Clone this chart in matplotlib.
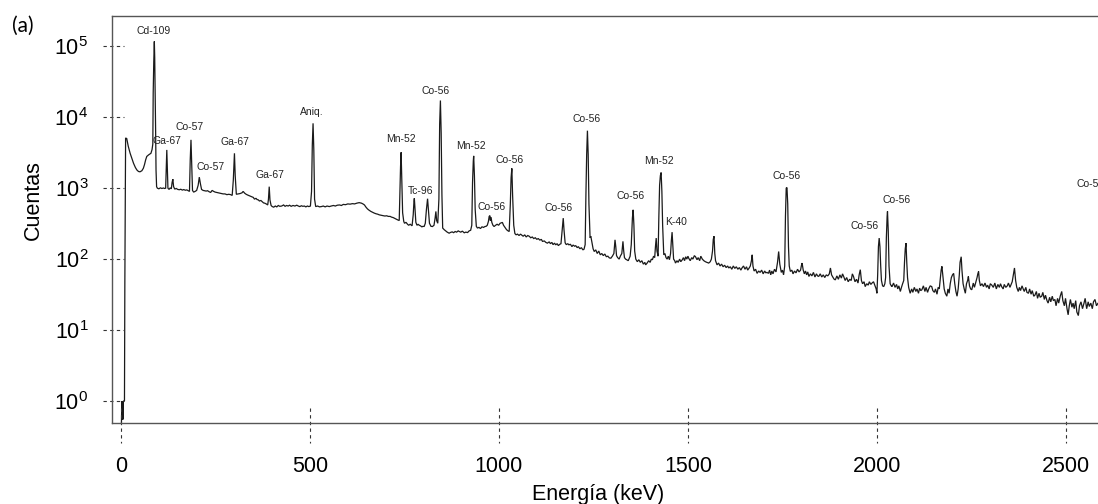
import matplotlib
matplotlib.use("Agg")
import matplotlib.pyplot as plt
from matplotlib.transforms import blended_transform_factory
from matplotlib.ticker import FixedLocator, NullLocator, LogFormatterMathtext

plt.rcParams['font.family'] = ['Liberation Sans', 'DejaVu Sans']
plt.rcParams['mathtext.fontset'] = 'custom'
plt.rcParams['mathtext.rm'] = 'Liberation Sans'
plt.rcParams['mathtext.it'] = 'Liberation Sans:italic'
plt.rcParams['mathtext.bf'] = 'Liberation Sans:bold'

# ---------------- data (energy keV, counts) ----------------
seg_low = [(1, 0.5), (2, 1.0), (3, 0.55), (4, 1.0), (5, 0.55), (6, 1.0), (7, 1.0), (9, 1.0), (10, 46),
           (12, 5100), (15, 5000), (19, 3900), (24, 3100), (29, 2600), (33, 2240), (38, 1950), (42, 1800),
           (46, 1720), (50, 1700), (55, 1760), (59, 1910), (62, 2150), (65, 2500), (68, 2800), (73, 2950),
           (79, 3100), (82, 3500), (84, 4200), (85, 21800), (86.5, 60000), (88, 117000), (89, 70000),
           (90, 27000), (91.5, 6000), (92.5, 1800), (94, 1050), (96, 1000)]

seg_100_550 = [(100, 980), (104, 1010), (108, 990), (112, 1005), (115, 990), (118, 1000), (120, 2500),
               (121, 3460), (122, 2200), (124, 1000), (127, 960), (130, 1010), (133, 980), (135, 1200),
               (137, 1340), (139, 1050), (142, 970), (146, 990), (150, 960), (154, 950), (158, 965),
               (162, 940), (166, 955), (170, 935), (174, 945), (178, 920), (181, 900), (183, 2500),
               (185, 4800), (187, 2000), (189, 930), (192, 880), (196, 900), (200, 930), (204, 1100),
               (207, 1430), (210, 1150), (213, 960), (217, 930), (221, 920), (225, 910), (229, 920),
               (233, 890), (237, 870), (241, 930), (245, 900), (249, 880), (253, 870), (257, 860),
               (261, 850), (265, 840), (270, 830), (275, 830), (280, 810), (285, 820), (290, 810),
               (294, 790), (297, 1300), (300, 3100), (302, 1500), (305, 820), (310, 830), (315, 840),
               (320, 860), (323, 900), (327, 850), (331, 820), (335, 800), (340, 780), (345, 760),
               (350, 740), (353, 700), (357, 720), (360, 690), (363, 685), (366, 660), (370, 670),
               (374, 640), (377, 620), (380, 615), (384, 600), (388, 580), (390, 700), (392, 1050),
               (394, 680), (397, 570), (400, 550), (404, 540), (408, 560), (412, 545), (416, 570),
               (420, 555), (425, 560), (430, 580), (434, 555), (438, 570), (442, 560), (446, 575),
               (450, 555), (455, 570), (460, 560), (465, 575), (469, 560), (473, 550), (477, 565),
               (481, 555), (485, 560), (489, 545), (493, 560), (497, 550), (501, 560), (504, 900),
               (506, 4000), (508, 8200), (510, 3500), (512, 700), (515, 550), (520, 560), (525, 545),
               (530, 550), (535, 560), (540, 545), (545, 560), (551, 550)]

seg_550_1130 = [(556, 560), (562, 570), (567, 560), (572, 575), (578, 580), (583, 570), (588, 590),
                (594, 585), (600, 600), (606, 595), (612, 605), (618, 600), (624, 615), (630, 625),
                (636, 615), (640, 600), (644, 580), (648, 540), (652, 510), (656, 490), (661, 470),
                (666, 455), (670, 445), (675, 435), (679, 430), (683, 421), (688, 415), (693, 410),
                (698, 405), (703, 408), (707, 400), (712, 400), (716, 390), (720, 385), (724, 375),
                (728, 365), (732, 357), (736, 350), (738, 900), (739.5, 2000), (741, 3200), (743, 1200),
                (745, 450), (748, 340), (750, 320), (754, 330), (758, 310), (761, 300), (765, 310),
                (770, 295), (773, 420), (775, 650), (776, 720), (778, 500), (780, 330), (783, 300),
                (786, 310), (789, 300), (792, 295), (796, 285), (799, 290), (802, 288), (805, 320),
                (808, 500), (811, 710), (813, 520), (816, 320), (820, 290), (824, 288), (828, 300),
                (831, 380), (833, 470), (835, 350), (838, 320), (841, 700), (843, 8000), (845, 17200),
                (847, 6000), (849, 800), (851, 274), (855, 260), (859, 250), (863, 240), (868, 232),
                (872, 238), (876, 242), (880, 236), (884, 245), (888, 240), (892, 250), (895, 245),
                (899, 240), (903, 248), (908, 235), (912, 240), (917, 237), (921, 250), (925, 255),
                (928, 300), (930, 1200), (932, 2400), (933, 2850), (935, 1500), (937, 500), (940, 290),
                (943, 274), (947, 280), (951, 270), (955, 285), (959, 280), (963, 288), (966, 290),
                (969, 300), (972, 340), (974, 400), (976, 410), (977, 350), (979, 390), (981, 330),
                (984, 300), (987, 288), (991, 300), (995, 310), (999, 300), (1003, 320), (1006, 325),
                (1009, 329), (1012, 300), (1016, 280), (1020, 260), (1024, 250), (1027, 245),
                (1030, 600), (1032, 1400), (1034, 1900), (1036, 800), (1039, 300), (1042, 230),
                (1045, 220), (1049, 225), (1053, 215), (1057, 225), (1060, 218), (1064, 210),
                (1068, 220), (1072, 205), (1076, 215), (1080, 210), (1084, 200), (1088, 205),
                (1092, 195), (1096, 200), (1100, 190), (1104, 195), (1108, 185), (1112, 190),
                (1115, 178), (1120, 180), (1124, 172), (1128, 168)]

seg_1130_1710 = [(1133, 175), (1136, 165), (1140, 172), (1143, 160), (1147, 168), (1150, 159), (1154, 165),
                 (1157, 155), (1161, 162), (1164, 165), (1167, 250), (1170, 378), (1172, 260), (1175, 170),
                 (1178, 160), (1182, 165), (1185, 159), (1189, 162), (1193, 150), (1196, 158), (1200, 152),
                 (1203, 155), (1207, 145), (1210, 150), (1214, 140), (1218, 145), (1222, 135), (1225, 138),
                 (1228, 160), (1230, 800), (1232, 3000), (1234, 6460), (1236, 3000), (1238, 600),
                 (1241, 200), (1243, 210), (1246, 170), (1249, 140), (1252, 128), (1256, 135), (1260, 120),
                 (1264, 130), (1268, 115), (1272, 120), (1276, 112), (1280, 118), (1284, 108), (1288, 110),
                 (1292, 104), (1296, 103), (1300, 110), (1304, 120), (1307, 187), (1309, 150), (1311, 112),
                 (1314, 105), (1318, 100), (1321, 110), (1325, 120), (1328, 178), (1330, 130), (1332, 105),
                 (1335, 100), (1338, 98), (1342, 95), (1347, 110), (1350, 160), (1353, 380),
                 (1355, 495), (1357, 300), (1359, 130), (1362, 100), (1366, 92), (1370, 98), (1374, 90),
                 (1378, 95), (1382, 85), (1386, 90), (1388, 83), (1392, 88), (1396, 95), (1400, 90),
                 (1403, 100), (1406, 98), (1409, 110), (1412, 105), (1414, 150), (1416, 198), (1418, 130),
                 (1421, 110), (1423, 400), (1425, 1100), (1427, 1500), (1429, 1660), (1431, 900),
                 (1433, 300), (1436, 115), (1439, 120), (1442, 105), (1445, 100), (1448, 110), (1451, 98),
                 (1454, 120), (1456, 180), (1458, 240), (1460, 150), (1462, 100), (1465, 95), (1467, 88),
                 (1471, 95), (1474, 90), (1478, 100), (1481, 92), (1485, 98), (1488, 105), (1491, 95),
                 (1494, 108), (1497, 100), (1500, 110), (1502, 103), (1506, 95), (1510, 105), (1513, 100),
                 (1517, 112), (1520, 108), (1524, 98), (1527, 105), (1531, 95), (1534, 110), (1538, 100),
                 (1542, 95), (1546, 92), (1550, 90), (1555, 88), (1559, 92), (1562, 100), (1565, 130),
                 (1567, 190), (1569, 210), (1571, 120), (1573, 95), (1577, 83), (1581, 88), (1585, 80),
                 (1589, 85), (1593, 78), (1597, 82), (1601, 76), (1605, 80), (1608, 75), (1612, 78),
                 (1616, 72), (1620, 80), (1624, 74), (1628, 78), (1632, 72), (1636, 76), (1640, 70),
                 (1643, 75), (1647, 80), (1651, 72), (1655, 78), (1658, 70), (1662, 75), (1665, 80),
                 (1668, 95), (1670, 115), (1672, 80), (1675, 68), (1679, 72), (1683, 63), (1687, 68),
                 (1691, 65), (1695, 70), (1699, 62), (1703, 68), (1706, 64), (1709, 65)]

seg_1710_2295 = [(1713, 63), (1716, 70), (1719, 60), (1722, 68), (1725, 62), (1729, 72), (1733, 66),
                 (1737, 90), (1740, 128), (1743, 85), (1747, 65), (1750, 70), (1753, 60), (1756, 80),
                 (1758, 400), (1760, 1000), (1762, 1020), (1764, 600), (1766, 150), (1768, 80), (1771, 67),
                 (1775, 70), (1778, 62), (1782, 68), (1786, 64), (1790, 72), (1794, 66), (1798, 70),
                 (1800, 80), (1802, 88), (1805, 70), (1808, 62), (1811, 68), (1814, 60), (1817, 66),
                 (1820, 57), (1824, 62), (1828, 58), (1832, 65), (1836, 56), (1840, 62), (1843, 58),
                 (1846, 57), (1850, 62), (1854, 56), (1858, 60), (1862, 55), (1866, 60), (1870, 58),
                 (1874, 62), (1877, 75), (1880, 60), (1884, 55), (1887, 52), (1890, 51), (1894, 58),
                 (1898, 52), (1902, 60), (1906, 54), (1909, 62), (1912, 57), (1916, 50), (1920, 55),
                 (1924, 48), (1928, 52), (1932, 50), (1935, 62), (1938, 57), (1942, 48), (1946, 52),
                 (1950, 46), (1953, 60), (1956, 71), (1959, 50), (1962, 45), (1966, 48), (1969, 41),
                 (1973, 45), (1977, 43), (1980, 48), (1984, 44), (1987, 46), (1991, 48), (1995, 42),
                 (1998, 38), (2000, 33), (2002, 60), (2004, 150), (2006, 198), (2008, 150), (2010, 80),
                 (2012, 50), (2015, 42), (2018, 41), (2021, 45), (2023, 55), (2025, 200), (2027, 400),
                 (2028, 470), (2030, 250), (2032, 80), (2035, 45), (2038, 42), (2040, 41), (2044, 46),
                 (2048, 40), (2052, 44), (2055, 38), (2058, 42), (2062, 35), (2065, 40), (2068, 45),
                 (2071, 50), (2073, 90), (2075, 140), (2077, 168), (2079, 90), (2081, 55), (2084, 40),
                 (2088, 33), (2092, 38), (2095, 34), (2099, 40), (2103, 35), (2106, 38), (2110, 33),
                 (2113, 39), (2116, 36), (2119, 37), (2123, 42), (2127, 35), (2130, 40), (2134, 34),
                 (2137, 38), (2141, 42), (2145, 41), (2148, 36), (2152, 34), (2155, 38), (2159, 32),
                 (2162, 40), (2165, 38), (2168, 55), (2170, 70), (2172, 79), (2175, 55), (2178, 38),
                 (2181, 33), (2185, 30), (2188, 38), (2191, 33), (2194, 45), (2197, 55), (2200, 60),
                 (2203, 63), (2206, 45), (2209, 35), (2212, 30), (2215, 38), (2218, 60), (2220, 90),
                 (2223, 108), (2225, 70), (2228, 45), (2231, 38), (2234, 33), (2237, 45), (2240, 50),
                 (2242, 57), (2245, 42), (2248, 38), (2251, 37), (2255, 46), (2258, 40), (2262, 48),
                 (2265, 55), (2267, 62), (2269, 67), (2271, 50), (2274, 42), (2278, 45), (2282, 41),
                 (2286, 46), (2290, 40), (2293, 43)]

seg_2295_end = [(2297, 38), (2300, 45), (2304, 43), (2308, 40), (2312, 46), (2316, 38), (2320, 44),
                (2324, 40), (2327, 45), (2330, 41), (2334, 38), (2337, 44), (2341, 40), (2345, 42),
                (2348, 46), (2352, 40), (2355, 44), (2358, 48), (2361, 60), (2364, 75), (2367, 50),
                (2370, 40), (2374, 35), (2377, 40), (2380, 36), (2384, 42), (2387, 38), (2390, 35),
                (2394, 40), (2397, 34), (2401, 33), (2404, 38), (2408, 32), (2411, 36), (2415, 30),
                (2418, 31), (2422, 35), (2425, 28), (2429, 33), (2432, 29), (2436, 30), (2439, 34),
                (2443, 27), (2446, 31), (2450, 26), (2453, 24), (2457, 29), (2460, 25), (2464, 30),
                (2467, 26), (2471, 27), (2474, 22), (2478, 28), (2481, 24), (2485, 30), (2489, 35),
                (2492, 26), (2496, 22), (2499, 28), (2503, 20), (2506, 16.4), (2509, 22), (2512, 27),
                (2516, 21), (2519, 24), (2522, 20), (2526, 26), (2529, 18), (2533, 16), (2536, 22),
                (2540, 25), (2544, 20), (2548, 24), (2551, 28), (2555, 20), (2559, 25), (2562, 21.5),
                (2566, 24), (2570, 20), (2573, 25), (2577, 27), (2581, 22), (2585, 24), (2590, 23)]

# peak labels: text, energy (keV) and height (counts) where the label sits
label_text = ["Cd-109", "Ga-67", "Co-57", "Co-57", "Ga-67", "Ga-67", "Aniq.", "Mn-52", "Tc-96",
              "Co-56", "Mn-52", "Co-56", "Co-56", "Co-56", "Co-56", "Co-56", "Mn-52", "K-40",
              "Co-56", "Co-56", "Co-56", "Co-56"]
label_energy = [85.6, 120.2, 180.7, 237, 300.4, 392.9, 503.8, 739.8, 792.6,
                833.3, 924.7, 980.7, 1027, 1156.4, 1230.4, 1349.3, 1424, 1469.5,
                1760, 1967, 2050.7, 2566]
label_counts = [166000, 4680, 7380, 2010, 4530, 1540, 12000, 4940, 925,
                23700, 3980, 551, 2510, 522, 9460, 787, 2430, 332,
                1490, 294, 684, 1140]

x_ticks = [0, 500, 1000, 1500, 2000, 2500]
y_ticks = [1, 10, 100, 1000, 10000, 100000]

# ---------------- figure ----------------
W, H, DPI = 1098, 504, 100
fig = plt.figure(figsize=(W / DPI, H / DPI), dpi=DPI)
ax_l, ax_r, ax_t, ax_b = 112, 1098, 16, 423
ax = fig.add_axes([ax_l / W, 1 - ax_b / H, (ax_r - ax_l) / W, (ax_b - ax_t) / H])

segments = [seg_low, seg_100_550, seg_550_1130, seg_1130_1710, seg_1710_2295, seg_2295_end]
pts = [p for seg in segments for p in seg]
energy = [p[0] for p in pts]
counts = [p[1] for p in pts]
ax.plot(energy, counts, color='#1a1a1a', lw=0.9, solid_joinstyle='miter')

ax.set_yscale('log')
ax.set_xlim(-24, 2585)
ax.set_ylim(0.49, 2.67e5)

for s in ['left', 'bottom', 'top']:
    ax.spines[s].set_color('#555555')
    ax.spines[s].set_linewidth(1.0)
ax.spines['right'].set_visible(False)

ax.xaxis.set_major_locator(FixedLocator(x_ticks))
ax.yaxis.set_major_locator(FixedLocator(y_ticks))
ax.yaxis.set_minor_locator(NullLocator())
ax.yaxis.set_major_formatter(LogFormatterMathtext())
ax.tick_params(axis='x', length=0, pad=24, labelsize=15.5)
ax.tick_params(axis='y', length=0, pad=17, labelsize=15.5)

# dashed tick marks
tr_y = blended_transform_factory(ax.transAxes, ax.transData)
tr_x = blended_transform_factory(ax.transData, ax.transAxes)
axw, axh = ax_r - ax_l, ax_b - ax_t
for yv in y_ticks:
    ax.plot([-9 / axw, 12 / axw], [yv, yv], transform=tr_y, color='#333333', lw=0.8,
            ls=(0, (3, 3)), clip_on=False)
for xv in x_ticks:
    ax.plot([xv, xv], [15 / axh, -20 / axh], transform=tr_x, color='#333333', lw=0.8,
            ls=(0, (3, 3)), clip_on=False)

for t, e, c in zip(label_text, label_energy, label_counts):
    ax.text(e, c, t, fontsize=7.5, color='#222222', ha='center', va='center', clip_on=False)

fig.text(598 / W, 1 - 500 / H, 'Energía (keV)', fontsize=15.5, ha='center', va='baseline')
fig.text(33 / W, 1 - 200 / H, 'Cuentas', fontsize=15.5, rotation=90, ha='center', va='center')
fig.text(23 / W, 1 - 26 / H, '(a)', fontsize=15, ha='center', va='center', family=['Lato', 'DejaVu Sans'])

fig.savefig('out.png', dpi=DPI)
